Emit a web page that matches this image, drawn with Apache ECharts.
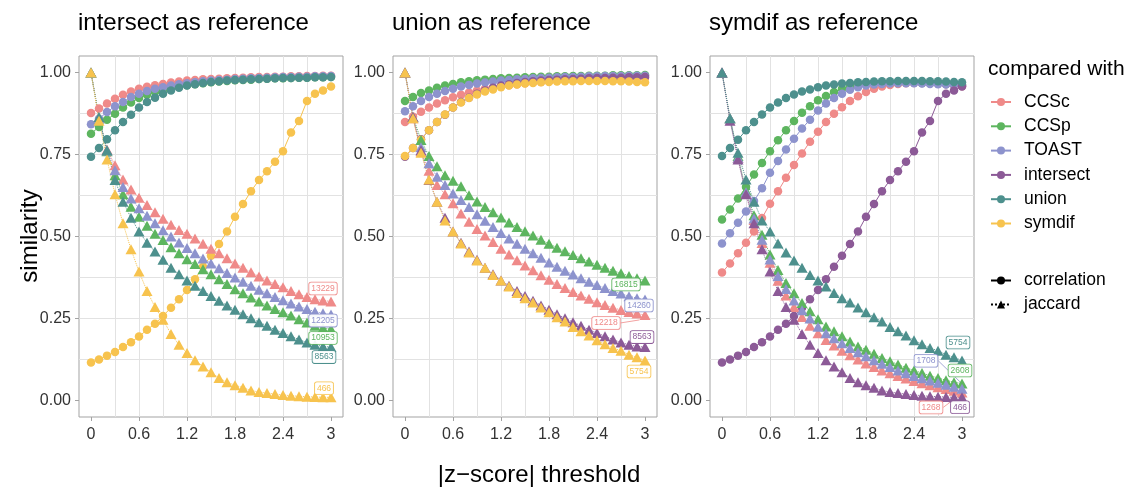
<!DOCTYPE html>
<html><head><meta charset="utf-8">
<script src="https://cdn.jsdelivr.net/npm/echarts@6/dist/echarts.min.js"></script>
<style>html,body{margin:0;padding:0;background:#fff}#c{width:1136px;height:491px}</style>
</head><body><div id="c"></div>
<script>
// ---------- data ----------
const thresholds = [0,0.1,0.2,0.3,0.4,0.5,0.6,0.7,0.8,0.9,1.0,1.1,1.2,1.3,1.4,1.5,1.6,1.7,1.8,1.9,2.0,2.1,2.2,2.3,2.4,2.5,2.6,2.7,2.8,2.9,3.0];
const groups = ['CCSc','CCSp','TOAST','intersect','union','symdif'];
const metrics = ['correlation','jaccard'];
const panelTitles = ['intersect as reference','union as reference','symdif as reference'];
const xTickLabels = [0,0.6,1.2,1.8,2.4,3];
const xGridValues = [0,0.3,0.6,0.9,1.2,1.5,1.8,2.1,2.4,2.7,3];
const yTickLabels = [0,0.25,0.5,0.75,1];
const yGridValues = [0,0.125,0.25,0.375,0.5,0.625,0.75,0.875,1];

// correlation
const corr_intersect_CCSc  = [0.876,0.890,0.905,0.920,0.932,0.942,0.950,0.956,0.961,0.965,0.969,0.972,0.975,0.977,0.979,0.980,0.981,0.982,0.983,0.984,0.985,0.986,0.986,0.987,0.987,0.988,0.988,0.989,0.989,0.990,0.990];
const corr_intersect_CCSp  = [0.813,0.834,0.856,0.874,0.893,0.908,0.922,0.932,0.940,0.947,0.952,0.957,0.961,0.964,0.967,0.970,0.972,0.974,0.976,0.977,0.978,0.980,0.981,0.982,0.982,0.983,0.984,0.984,0.985,0.985,0.986];
const corr_intersect_TOAST = [0.842,0.859,0.879,0.897,0.910,0.925,0.935,0.943,0.950,0.955,0.960,0.964,0.967,0.970,0.973,0.975,0.977,0.978,0.980,0.981,0.982,0.983,0.984,0.985,0.986,0.986,0.987,0.987,0.988,0.988,0.989];
const corr_intersect_union = [0.743,0.770,0.796,0.824,0.849,0.871,0.893,0.910,0.923,0.935,0.945,0.953,0.960,0.964,0.968,0.971,0.973,0.975,0.977,0.978,0.979,0.980,0.981,0.982,0.983,0.983,0.984,0.984,0.985,0.985,0.986];
const corr_intersect_symdif= [0.116,0.125,0.137,0.148,0.163,0.178,0.195,0.216,0.234,0.258,0.283,0.309,0.337,0.370,0.408,0.441,0.477,0.515,0.560,0.599,0.638,0.672,0.699,0.728,0.760,0.817,0.852,0.913,0.935,0.945,0.957];
const corr_union_CCSc      = [0.849,0.865,0.880,0.893,0.905,0.915,0.924,0.932,0.939,0.945,0.950,0.954,0.958,0.961,0.964,0.967,0.969,0.971,0.973,0.975,0.976,0.977,0.978,0.979,0.980,0.981,0.982,0.982,0.983,0.983,0.984];
const corr_union_CCSp      = [0.913,0.925,0.937,0.945,0.953,0.960,0.965,0.970,0.973,0.976,0.978,0.980,0.982,0.983,0.984,0.985,0.986,0.987,0.987,0.988,0.988,0.989,0.989,0.990,0.990,0.990,0.991,0.991,0.991,0.991,0.992];
const corr_union_TOAST     = [0.882,0.897,0.913,0.925,0.935,0.943,0.950,0.957,0.962,0.966,0.969,0.972,0.975,0.977,0.979,0.980,0.982,0.983,0.984,0.985,0.986,0.986,0.987,0.988,0.988,0.989,0.989,0.989,0.990,0.990,0.990];
const corr_union_symdif    = [0.745,0.770,0.795,0.824,0.849,0.872,0.893,0.908,0.922,0.933,0.942,0.948,0.955,0.960,0.963,0.966,0.968,0.970,0.971,0.972,0.973,0.973,0.974,0.974,0.974,0.974,0.973,0.973,0.972,0.971,0.970];
const corr_symdif_CCSc     = [0.390,0.418,0.449,0.481,0.515,0.556,0.600,0.638,0.679,0.718,0.753,0.789,0.819,0.849,0.874,0.894,0.913,0.927,0.940,0.950,0.957,0.962,0.965,0.967,0.968,0.968,0.967,0.966,0.964,0.961,0.958];
const corr_symdif_CCSp     = [0.552,0.582,0.616,0.651,0.689,0.724,0.760,0.793,0.824,0.852,0.877,0.897,0.915,0.928,0.940,0.950,0.958,0.962,0.965,0.967,0.968,0.969,0.969,0.969,0.969,0.968,0.967,0.966,0.965,0.964,0.963];
const corr_symdif_TOAST    = [0.479,0.510,0.542,0.576,0.608,0.647,0.694,0.730,0.765,0.798,0.829,0.856,0.884,0.905,0.922,0.935,0.947,0.955,0.960,0.963,0.965,0.966,0.967,0.967,0.967,0.966,0.965,0.964,0.963,0.962,0.960];

// jaccard
const jac_intersect_CCSc   = [1.000,0.862,0.765,0.717,0.674,0.643,0.618,0.596,0.574,0.554,0.536,0.520,0.508,0.494,0.478,0.463,0.449,0.434,0.418,0.405,0.391,0.378,0.366,0.355,0.345,0.334,0.324,0.316,0.309,0.305,0.302];
const jac_intersect_CCSp   = [1.000,0.860,0.760,0.687,0.629,0.591,0.560,0.533,0.508,0.489,0.467,0.449,0.431,0.416,0.400,0.385,0.370,0.355,0.339,0.327,0.314,0.302,0.290,0.279,0.269,0.259,0.248,0.238,0.228,0.221,0.218];
const jac_intersect_TOAST  = [1.000,0.860,0.762,0.702,0.651,0.616,0.586,0.563,0.540,0.519,0.500,0.482,0.465,0.449,0.433,0.418,0.403,0.389,0.375,0.362,0.350,0.338,0.327,0.316,0.306,0.296,0.287,0.279,0.271,0.266,0.262];
const jac_intersect_union  = [1.000,0.864,0.763,0.672,0.606,0.557,0.515,0.481,0.454,0.429,0.405,0.385,0.366,0.350,0.334,0.319,0.304,0.290,0.277,0.263,0.251,0.239,0.228,0.216,0.206,0.196,0.186,0.177,0.170,0.165,0.163];
const jac_intersect_symdif = [1.000,0.853,0.735,0.629,0.540,0.461,0.393,0.334,0.285,0.246,0.203,0.170,0.145,0.123,0.104,0.086,0.069,0.056,0.047,0.039,0.031,0.026,0.023,0.020,0.017,0.015,0.013,0.012,0.011,0.010,0.010];
const jac_union_CCSc       = [1.000,0.860,0.760,0.700,0.657,0.629,0.601,0.570,0.545,0.523,0.503,0.483,0.463,0.445,0.428,0.412,0.397,0.382,0.368,0.355,0.343,0.331,0.320,0.310,0.300,0.291,0.283,0.276,0.270,0.265,0.261];
const jac_union_CCSp       = [1.000,0.864,0.794,0.745,0.714,0.687,0.670,0.653,0.626,0.607,0.590,0.574,0.558,0.543,0.529,0.516,0.503,0.490,0.478,0.466,0.455,0.444,0.434,0.424,0.414,0.405,0.396,0.388,0.380,0.373,0.366];
const jac_union_TOAST      = [1.000,0.862,0.772,0.723,0.682,0.657,0.631,0.611,0.590,0.568,0.548,0.529,0.511,0.494,0.478,0.463,0.449,0.435,0.421,0.408,0.396,0.384,0.373,0.362,0.352,0.343,0.334,0.326,0.318,0.312,0.308];
const jac_union_symdif     = [1.000,0.860,0.755,0.674,0.606,0.549,0.515,0.479,0.451,0.427,0.405,0.383,0.366,0.348,0.328,0.312,0.299,0.284,0.269,0.254,0.241,0.224,0.211,0.198,0.184,0.172,0.160,0.152,0.140,0.132,0.122];
const jac_symdif_CCSc      = [1.000,0.860,0.740,0.630,0.550,0.480,0.420,0.365,0.320,0.285,0.255,0.228,0.205,0.185,0.168,0.152,0.138,0.125,0.113,0.102,0.092,0.083,0.075,0.067,0.060,0.053,0.047,0.041,0.035,0.030,0.025];
const jac_symdif_CCSp      = [1.000,0.860,0.745,0.640,0.565,0.505,0.445,0.398,0.358,0.327,0.297,0.272,0.248,0.226,0.211,0.196,0.180,0.165,0.155,0.143,0.130,0.120,0.110,0.100,0.092,0.084,0.076,0.069,0.062,0.056,0.052];
const jac_symdif_TOAST     = [1.000,0.860,0.740,0.635,0.555,0.490,0.430,0.380,0.340,0.305,0.275,0.250,0.225,0.205,0.190,0.175,0.160,0.147,0.135,0.123,0.112,0.102,0.092,0.083,0.075,0.068,0.061,0.054,0.048,0.042,0.036];

// number of genes shown at the end of each jaccard curve
const count_intersect = {CCSc:'13229', CCSp:'10953', TOAST:'12205', union:'8563', symdif:'466'};
const count_union     = {CCSc:'12218', CCSp:'16815', TOAST:'14260', intersect:'8563', symdif:'5754'};
const count_symdif    = {CCSc:'1268',  CCSp:'2608',  TOAST:'1708',  intersect:'466', union:'5754'};

const panels = [
  {title: panelTitles[0], members:['CCSc','CCSp','TOAST','union','symdif'],
   correlation:{CCSc:corr_intersect_CCSc, CCSp:corr_intersect_CCSp, TOAST:corr_intersect_TOAST, union:corr_intersect_union, symdif:corr_intersect_symdif},
   jaccard:{CCSc:jac_intersect_CCSc, CCSp:jac_intersect_CCSp, TOAST:jac_intersect_TOAST, union:jac_intersect_union, symdif:jac_intersect_symdif},
   counts: count_intersect},
  {title: panelTitles[1], members:['CCSc','CCSp','TOAST','intersect','symdif'],
   correlation:{CCSc:corr_union_CCSc, CCSp:corr_union_CCSp, TOAST:corr_union_TOAST, intersect:corr_intersect_union, symdif:corr_union_symdif},
   jaccard:{CCSc:jac_union_CCSc, CCSp:jac_union_CCSp, TOAST:jac_union_TOAST, intersect:jac_intersect_union, symdif:jac_union_symdif},
   counts: count_union},
  {title: panelTitles[2], members:['CCSc','CCSp','TOAST','intersect','union'],
   correlation:{CCSc:corr_symdif_CCSc, CCSp:corr_symdif_CCSp, TOAST:corr_symdif_TOAST, intersect:corr_intersect_symdif, union:corr_union_symdif},
   jaccard:{CCSc:jac_symdif_CCSc, CCSp:jac_symdif_CCSp, TOAST:jac_symdif_TOAST, intersect:jac_intersect_symdif, union:jac_union_symdif},
   counts: count_symdif}
];

// ---------- styles / layout ----------
const FONT = '"Liberation Sans", Arial, Helvetica, sans-serif';
const colorOf = {CCSc:'#EF8A89', CCSp:'#5DB55F', TOAST:'#8D93CD', intersect:'#8C5A97', union:'#4D908D', symdif:'#F7C34E'};
const gridBoxes = [
  {left:79, top:56, width:264, height:361},
  {left:393, top:56, width:264, height:361},
  {left:710, top:56, width:264, height:361}
];
const labelOffsets = [
  {CCSc:[-8,-13], TOAST:[-8,6], CCSp:[-8,9], union:[-7,10], symdif:[-7,-9]},
  {CCSp:[-19,4], TOAST:[-6,6], CCSc:[-39,8], intersect:[-3,-10], symdif:[-6,11]},
  {union:[-4,-18], TOAST:[-36,-28], CCSp:[-2,-13], CCSc:[-31,15], intersect:[-2,10]}
];
const connectors = {'1-CCSc':true, '2-TOAST':true, '2-CCSc':true};
const BORDER = '#A3A3A3';

const grid = [], xAxis = [], yAxis = [], series = [], titles = [];
panels.forEach((p, i) => {
  grid.push(Object.assign({show:true, borderColor:BORDER, borderWidth:1, backgroundColor:'#fff', containLabel:false, outerBoundsMode:'none'}, gridBoxes[i]));
  xAxis.push({type:'value', gridIndex:i, min:-0.15, max:3.15, position:'bottom',
    axisLine:{show:false, onZero:false},
    axisTick:{show:true, length:4, lineStyle:{color:BORDER}, customValues:xTickLabels},
    axisLabel:{customValues:xTickLabels, formatter:v => String(v), color:'#333', fontSize:16, fontFamily:FONT, margin:10},
    splitLine:{show:false}});
  xAxis.push({type:'value', gridIndex:i, min:-0.15, max:3.15, splitNumber:10,
    axisLine:{show:false, onZero:false}, axisTick:{show:false, customValues:xGridValues}, axisLabel:{show:false},
    splitLine:{show:true, showMinLine:false, showMaxLine:false, lineStyle:{color:'#E2E2E2', width:1}}});
  yAxis.push({type:'value', gridIndex:i, min:-0.05, max:1.05, position:'left',
    axisLine:{show:false, onZero:false},
    axisTick:{show:true, length:4, lineStyle:{color:BORDER}, customValues:yTickLabels},
    axisLabel:{customValues:yTickLabels, formatter:v => v.toFixed(2), color:'#333', fontSize:16, fontFamily:FONT, margin:8},
    splitLine:{show:false}});
  yAxis.push({type:'value', gridIndex:i, min:-0.05, max:1.05, position:'left',
    axisLine:{show:false, onZero:false}, axisTick:{show:false, customValues:yGridValues}, axisLabel:{show:false},
    splitLine:{show:true, showMinLine:false, showMaxLine:false, lineStyle:{color:'#E2E2E2', width:1}}});
  titles.push({text:p.title, left:gridBoxes[i].left - 1, top:11, padding:0,
    textStyle:{fontSize:24, fontWeight:'normal', color:'#000', fontFamily:FONT}});

  metrics.forEach(metric => {
    const isJac = metric === 'jaccard';
    p.members.forEach(g => {
      const arr = p[metric][g];
      const c = colorOf[g];
      const off = labelOffsets[i][g];
      const conn = !!connectors[i + '-' + g];
      const last = thresholds.length - 1;
      const data = thresholds.map((x, k) => (isJac && k === last)
        ? {value:[x, arr[k]], label:{show:true, formatter:p.counts[g]}}
        : [x, arr[k]]);
      series.push({
        type:'line', name:g, xAxisIndex:2*i, yAxisIndex:2*i, data,
        symbol: isJac ? 'triangle' : 'circle',
        symbolSize: isJac ? [11,10] : 8.5,
        showSymbol:true, showAllSymbol:true,
        itemStyle:{color:c},
        lineStyle:{color:c, width:1, type: isJac ? 'dotted' : 'solid'},
        label:{show:false, position:'inside', fontSize:8.5, fontFamily:FONT, color:c,
          backgroundColor:'rgba(255,255,255,0.92)', borderColor:c, borderWidth:0.8, borderRadius:2, padding:[2,2,1,2]},
        labelLayout: isJac ? {dx:off[0], dy:off[1]} : undefined,
        labelLine:{show:conn, lineStyle:{color:c, width:0.8}},
        emphasis:{disabled:true}, silent:true, animation:false
      });
    });
  });
});

// legend-only series for the shape/linetype key
series.push({type:'line', name:'correlation', data:[], symbol:'circle', itemStyle:{color:'#000'}, lineStyle:{color:'#000', width:1, type:'solid'}, animation:false});
series.push({type:'line', name:'jaccard', data:[], symbol:'triangle', itemStyle:{color:'#000'}, lineStyle:{color:'#000', width:1, type:'dotted'}, animation:false});

const legendText = {fontSize:17.5, fontFamily:FONT, color:'#000', padding:[0,0,0,8]};
const option = {
  animation:false,
  backgroundColor:'#fff',
  textStyle:{fontFamily:FONT},
  title: titles,
  grid, xAxis, yAxis, series,
  legend:[
    {data:groups, orient:'vertical', left:990, top:93, padding:0, itemWidth:20, itemHeight:10, itemGap:6.3, selectedMode:false, textStyle:legendText},
    {data:metrics, orient:'vertical', left:990, top:271.5, padding:0, itemWidth:20, itemHeight:10, itemGap:6, selectedMode:false, textStyle:legendText}
  ],
  graphic:[
    {type:'text', x:539, y:475, style:{text:'|z\u2212score| threshold', font:'24px ' + FONT, fill:'#000', align:'center', verticalAlign:'middle'}},
    {type:'text', x:30, y:236, rotation:Math.PI/2, style:{text:'similarity', font:'24px ' + FONT, fill:'#000', align:'center', verticalAlign:'middle'}},
    {type:'text', x:988, y:69, style:{text:'compared with', font:'21px ' + FONT, fill:'#000', align:'left', verticalAlign:'middle'}}
  ]
};
const chart = echarts.init(document.getElementById('c'));
chart.setOption(option);
</script>
</body></html>
